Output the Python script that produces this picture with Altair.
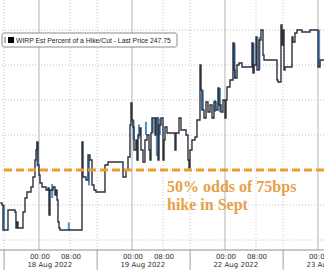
import altair as alt
import pandas as pd

# Series: hours since 18 Aug 2022 00:00 (weekend removed), WIRP value
hours = [-10.0, -9.55, -9.29, -8.0, -6.19, -5.94, -5.68, -5.42, -4.13, -3.61, -3.10, -2.06,
         -1.55, -1.03, -0.77, -0.52, -0.26, 0.0, 0.26, 0.77, 1.81, 2.32, 2.58, 2.84, 3.61,
         4.13, 4.39, 4.65, 4.90, 5.16, 5.42, 11.10, 11.35, 12.13, 12.65, 13.16, 13.68, 14.19,
         14.71, 17.03, 17.81, 21.68, 22.45, 22.97, 23.48, 23.74, 24.0, 24.26, 24.52, 25.03,
         25.29, 25.55, 26.06, 26.32, 26.84, 27.35, 27.87, 28.39, 28.65, 28.90, 29.16, 29.94,
         30.19, 30.71, 30.97, 31.48, 32.0, 32.26, 32.52, 33.03, 35.10, 35.35, 36.13, 36.65,
         37.94, 38.45, 38.71, 38.97, 39.48, 40.26, 40.77, 41.55, 41.81, 42.06, 42.58, 43.10,
         43.61, 44.13, 44.65, 45.16, 45.68, 46.19, 46.45, 46.97, 47.48, 48.0, 48.26, 48.52,
         49.29, 50.06, 50.32, 50.58, 51.10, 51.61, 52.39, 54.97, 55.23, 55.48, 56.0, 56.26,
         56.77, 57.29, 57.81, 58.06, 58.32, 61.42, 61.68, 62.45, 62.71, 62.97, 63.23, 63.48,
         64.0, 65.29, 65.55, 66.06, 66.58, 67.87, 69.94, 70.45, 72.0, 72.52, 73.6]
values = [245.29, 245.0, 241.43, 244.29, 244.0, 241.71, 242.57, 241.71, 244.0, 246.0, 246.86, 247.57,
          249.0, 251.43, 252.86, 254.0, 250.71, 249.29, 248.14, 247.57, 247.14, 247.43, 243.57, 247.14, 247.57,
          246.43, 247.14, 245.71, 242.57, 241.71, 241.43, 254.0, 249.0, 248.57, 252.14, 251.43, 247.86, 247.14,
          246.86, 250.71, 251.14, 249.0, 250.0, 251.86, 256.43, 259.57, 257.14, 256.14, 252.86, 254.29,
          251.43, 255.0, 256.0, 252.86, 251.14, 254.29, 255.0, 252.86, 251.43, 255.29, 257.43, 255.0,
          257.43, 251.43, 256.43, 257.43, 251.43, 254.29, 256.14, 255.29, 252.86, 255.29, 257.43, 255.71,
          255.0, 251.43, 250.3, 252.86, 254.29, 254.71, 257.14, 265.0, 261.43, 258.57, 257.43, 259.71,
          258.29, 259.29, 257.43, 259.71, 258.57, 261.71, 259.29, 258.29, 260.0, 257.43, 260.0, 261.86,
          262.86, 268.14, 264.29, 263.14, 265.0, 265.29, 264.71, 268.14, 263.86, 265.0, 269.0, 264.29,
          268.57, 270.0, 266.43, 265.71, 265.71, 262.86, 262.57, 270.71, 267.86, 270.0, 264.29, 264.71,
          264.71, 269.0, 268.29, 269.57, 270.0, 269.71, 270.0, 270.0, 264.71, 265.71, 265.71]

# Blue high/low bars
blue_h = [-9.0, -0.4, 3.4, 7.7, 12.9, 24.4, 25.8, 27.6, 29.4, 30.4, 31.2, 42.3, 45.4, 46.7, 50.5, 55.4, 56.9, 72.3]
blue_lo = [241.5, 250.5, 246.0, 241.4, 247.8, 254.3, 254.5, 255.0, 255.3, 252.0, 255.0, 258.6, 258.3, 258.3, 263.0, 263.9, 264.3, 264.7]
blue_hi = [245.0, 254.0, 248.0, 242.5, 252.1, 257.1, 256.5, 256.9, 257.4, 257.4, 257.4, 261.4, 260.0, 261.7, 268.1, 268.1, 269.0, 270.0]

grid_y = [240, 245, 250, 255, 260, 265, 270]
day_lines = [0, 24, 48, 72]
dotted_x = [-9, 8, 15, 32, 39, 56, 63]
sep_x = [-9, 15, 39, 63]
tick_hours = [0, 8, 24, 32, 48, 56, 72]
tick_labels = ["00:00", "08:00", "00:00", "08:00", "00:00", "08:00", "00:00"]
date_hours = [2.8, 26.8, 50.8, 74.8]
date_labels = ["18 Aug 2022", "19 Aug 2022", "22 Aug 2022", "23 Aug 2022"]
threshold = 250
legend_text = "WIRP Est Percent of a Hike/Cut - Last Price 247.75"
note_line1 = "50% odds of 75bps"
note_line2 = "hike in Sept"

xs = alt.Scale(domain=[-10.06, 73.55], nice=False, zero=False)
ys = alt.Scale(domain=[238.57, 274.29], nice=False, zero=False)

df = pd.DataFrame({"h": hours, "v": values})
bdf = pd.DataFrame({"h": blue_h, "lo": blue_lo, "hi": blue_hi})
one = pd.DataFrame({"a": [0]})

hgrid = alt.Chart(pd.DataFrame({"y": grid_y})).mark_rule(
    color="#c4c4c4", strokeDash=[1, 2], strokeWidth=1
).encode(y=alt.Y("y:Q", scale=ys, axis=None))

vsolid = alt.Chart(pd.DataFrame({"x": day_lines})).mark_rule(
    color="#b4b4b4", strokeWidth=1
).encode(x=alt.X("x:Q", scale=xs, axis=None))

vdot = alt.Chart(pd.DataFrame({"x": dotted_x})).mark_rule(
    color="#c4c4c4", strokeDash=[1, 2], strokeWidth=1
).encode(x=alt.X("x:Q", scale=xs, axis=None))

seps = alt.Chart(pd.DataFrame({"x": sep_x})).mark_rule(
    color="#a0a0a0", strokeWidth=1
).encode(x=alt.X("x:Q", scale=xs, axis=None), y=alt.value(250), y2=alt.value(270))

axis_line = alt.Chart(one).mark_rule(color="#909090", strokeWidth=1).encode(
    x=alt.value(0), x2=alt.value(324), y=alt.value(250)
)

blue = alt.Chart(bdf).mark_rule(color="#4f8fcf", strokeWidth=2).encode(
    x=alt.X("h:Q", scale=xs, axis=None),
    y=alt.Y("lo:Q", scale=ys, axis=None),
    y2="hi:Q",
)

line = alt.Chart(df).mark_line(
    interpolate="step-after", color="#2c323a", strokeWidth=1.4
).encode(
    x=alt.X("h:Q", scale=xs, axis=None),
    y=alt.Y("v:Q", scale=ys, axis=None),
)

orange = alt.Chart(pd.DataFrame({"y": [threshold]})).mark_rule(
    color="#f39a2e", strokeDash=[8, 4], strokeWidth=3
).encode(y=alt.Y("y:Q", scale=ys, axis=None))

tick_txt = alt.Chart(pd.DataFrame({"x": tick_hours, "t": tick_labels})).mark_text(
    font="DejaVu Sans", fontSize=7, color="#333333", baseline="middle", align="center", dx=1
).encode(x=alt.X("x:Q", scale=xs, axis=None), y=alt.value(257), text="t:N")

date_txt = alt.Chart(pd.DataFrame({"x": date_hours, "t": date_labels})).mark_text(
    font="DejaVu Sans", fontSize=7, color="#333333", baseline="middle", align="center"
).encode(x=alt.X("x:Q", scale=xs, axis=None), y=alt.value(265), text="t:N")

note_style = dict(font="Liberation Serif", fontWeight="bold", fontSize=16, color="#e9a049",
                  align="left", baseline="alphabetic")
note1 = alt.Chart(pd.DataFrame({"t": [note_line1]})).mark_text(**note_style).encode(
    x=alt.value(167), y=alt.value(192), text="t:N"
)
note2 = alt.Chart(pd.DataFrame({"t": [note_line2]})).mark_text(**note_style).encode(
    x=alt.value(167), y=alt.value(210), text="t:N"
)

leg_box = alt.Chart(one).mark_rect(
    fill="white", stroke="#8a8a8a", strokeWidth=1, cornerRadius=2
).encode(x=alt.value(2), x2=alt.value(177), y=alt.value(33), y2=alt.value(47))

leg_grip = alt.Chart(one).mark_rect(fill="#b0b0b0").encode(
    x=alt.value(4), x2=alt.value(6), y=alt.value(37), y2=alt.value(43)
)
leg_sq = alt.Chart(one).mark_rect(fill="#000000").encode(
    x=alt.value(8), x2=alt.value(14), y=alt.value(37), y2=alt.value(43)
)
leg_txt = alt.Chart(pd.DataFrame({"t": [legend_text]})).mark_text(
    font="Liberation Sans", fontSize=6.8, color="#222222", align="left", baseline="middle"
).encode(x=alt.value(16), y=alt.value(40.5), text="t:N")

chart = alt.layer(
    hgrid, vsolid, vdot, seps, axis_line, blue, line, orange,
    tick_txt, date_txt, note1, note2, leg_box, leg_grip, leg_sq, leg_txt
).properties(
    width=324, height=250,
    autosize=alt.AutoSizeParams(type="none"),
    padding={"left": 0, "top": 0, "right": 0, "bottom": 20},
    background="white",
).configure_view(stroke=None)

chart.save("out.html", embed_options={"renderer": "svg", "actions": False})
